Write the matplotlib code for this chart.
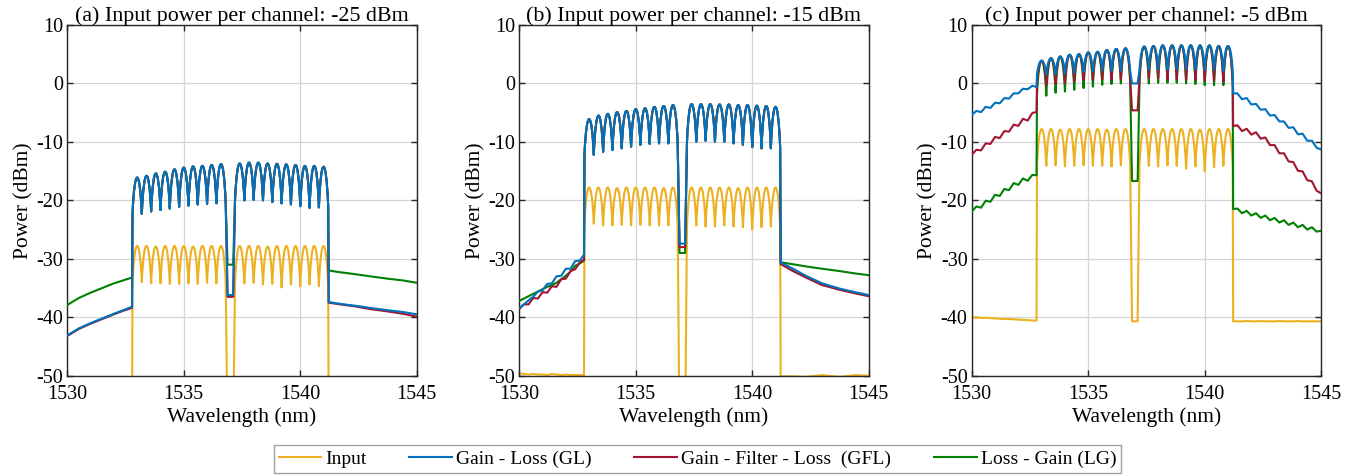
import matplotlib.pyplot as plt
from matplotlib.path import Path
from matplotlib.patches import PathPatch
from matplotlib.lines import Line2D

plt.rcParams['font.family'] = ['Liberation Serif', 'DejaVu Serif']
plt.rcParams['axes.unicode_minus'] = False

# channel centres (nm), the 1537.0 nm channel is dropped
channel_nm = [1533.0, 1533.4, 1533.8, 1534.2, 1534.6, 1535.0, 1535.4, 1535.8, 1536.2, 1536.6,
              1537.4, 1537.8, 1538.2, 1538.6, 1539.0, 1539.4, 1539.8, 1540.2, 1540.6, 1541.0]
gap_nm = [1536.88, 1537.12]

# out-of-band (ASE) sample wavelengths
coarse_left_nm = [1530.0, 1530.5, 1531.0, 1531.5, 1532.0, 1532.4, 1532.78]
coarse_right_nm = [1541.22, 1541.7, 1542.3, 1543.0, 1543.75, 1544.4, 1545.0]
fine_left_nm = [1530.0, 1530.2, 1530.4, 1530.6, 1530.8, 1531.0, 1531.2, 1531.4,
                1531.6, 1531.8, 1532.0, 1532.2, 1532.4, 1532.6, 1532.78]
fine_right_nm = [1541.22, 1541.4, 1541.6, 1541.8, 1542.0, 1542.2, 1542.4, 1542.6, 1542.8, 1543.0,
                 1543.2, 1543.4, 1543.6, 1543.8, 1544.0, 1544.2, 1544.4, 1544.6, 1544.8, 1545.0]

# ---- (a) -25 dBm per channel ----
a_in_peak = [-27.8, -27.8, -27.9, -27.8, -27.8, -27.8, -27.9, -27.8, -27.8, -27.8,
             -27.8, -27.8, -27.8, -27.9, -27.8, -27.8, -27.8, -27.8, -27.8, -27.8]
a_in_dip = [-34.0, -34.2, -34.2, -34.3, -34.3, -34.2, -34.3, -34.1, -34.2,
            -34.2, -34.1, -34.4, -34.3, -34.9, -34.4, -34.7, -34.4, -34.7]
a_in_gap = -60.0
a_in_left = [-60.0, -60.0, -60.0, -60.0, -60.0, -60.0, -60.0]
a_in_right = [-60.0, -60.0, -60.0, -60.0, -60.0, -60.0, -60.0]

a_gl_peak = [-16.1, -15.8, -15.4, -15.1, -14.7, -14.4, -14.2, -14.1, -13.95, -13.8,
             -13.7, -13.55, -13.55, -13.7, -13.75, -13.85, -13.95, -14.1, -14.1, -14.25]
a_gl_dip = [-22.3, -21.9, -21.65, -21.4, -21.1, -20.9, -20.7, -20.6, -20.5,
            -20.0, -19.9, -20.0, -20.3, -20.5, -20.7, -21.0, -21.3, -21.2]
a_gl_gap = -36.2
a_gl_left = [-43.1, -41.9, -41.0, -40.2, -39.4, -38.8, -38.2]
a_gl_right = [-37.4, -37.7, -38.0, -38.4, -38.8, -39.1, -39.5]

a_gfl_peak = a_gl_peak
a_gfl_dip = a_gl_dip
a_gfl_gap = -36.5
a_gfl_left = [-43.2, -42.0, -41.1, -40.3, -39.5, -38.9, -38.4]
a_gfl_right = [-37.5, -37.8, -38.1, -38.6, -39.0, -39.4, -39.9]

a_lg_peak = a_gl_peak
a_lg_dip = a_gl_dip
a_lg_gap = -31.0
a_lg_left = [-37.9, -36.7, -35.8, -35.0, -34.2, -33.7, -33.2]
a_lg_right = [-32.0, -32.3, -32.6, -33.0, -33.4, -33.7, -34.1]

# ---- (b) -15 dBm per channel ----
b_in_peak = [-17.8, -17.8, -17.8, -17.9, -17.8, -17.8, -17.8, -17.8, -17.9, -17.8,
             -17.8, -17.8, -17.8, -17.8, -17.8, -17.9, -17.8, -17.8, -17.8, -17.8]
b_in_dip = [-24.0, -24.3, -24.3, -24.2, -24.3, -24.2, -24.3, -24.3, -24.3,
            -24.3, -24.5, -24.5, -24.3, -24.5, -24.6, -25.0, -24.6, -24.5]
b_in_gap = -60.0
b_in_left = [-49.6, -49.7, -49.8, -49.7, -49.8, -49.8, -49.9, -49.7,
             -49.8, -49.9, -49.8, -49.9, -49.9, -49.9, -49.9]
b_in_right = [-50.1, -50.1, -50.2, -49.9, -50.2, -49.9, -50.0]

b_gl_peak = [-6.1, -5.5, -5.2, -4.9, -4.7, -4.4, -4.25, -4.0, -3.85, -3.7,
             -3.55, -3.55, -3.55, -3.6, -3.6, -3.7, -3.7, -3.8, -3.85, -4.0]
b_gl_dip = [-12.2, -11.7, -11.4, -11.1, -10.8, -10.5, -10.35, -10.25, -10.25,
            -9.95, -9.8, -9.95, -9.95, -10.25, -10.5, -10.9, -11.1, -11.1]
b_gl_gap = -27.4
b_gl_left = [-38.4, -37.8, -37.1, -36.5, -35.6, -35.4, -34.3, -34.2,
             -33.0, -32.9, -31.7, -31.7, -30.4, -30.3, -29.3]
b_gl_right = [-30.6, -31.6, -32.9, -34.2, -35.1, -35.7, -36.2]

b_gfl_peak = b_gl_peak
b_gfl_dip = b_gl_dip
b_gfl_gap = -28.0
b_gfl_left = [-38.6, -37.8, -37.8, -36.7, -36.8, -35.7, -35.8, -34.7,
              -34.8, -33.5, -33.4, -32.1, -31.8, -30.6, -30.2]
b_gfl_right = [-30.9, -32.0, -33.2, -34.5, -35.3, -35.9, -36.4]

b_lg_peak = b_gl_peak
b_lg_dip = b_gl_dip
b_lg_gap = -29.0
b_lg_left = [-37.2, -36.8, -36.4, -36.0, -35.6, -35.2, -34.8, -34.5,
             -34.1, -33.5, -32.9, -32.2, -31.2, -30.8, -30.3]
b_lg_right = [-30.6, -30.9, -31.3, -31.7, -32.1, -32.5, -32.8]

# ---- (c) -5 dBm per channel ----
c_in_peak = [-7.8, -7.8, -7.9, -7.8, -7.8, -7.8, -7.8, -7.9, -7.8, -7.8,
             -7.8, -7.8, -7.8, -7.8, -7.8, -7.8, -7.9, -7.8, -7.8, -7.8]
c_in_dip = [-14.1, -14.0, -14.2, -14.1, -14.0, -14.1, -14.1, -14.2, -14.0,
            -14.1, -14.2, -14.0, -14.1, -14.6, -14.2, -15.0, -14.3, -14.1]
c_in_gap = -40.7
c_in_left = [-40.0, -40.05, -40.1, -40.1, -40.15, -40.2, -40.25, -40.3,
             -40.3, -40.35, -40.4, -40.45, -40.5, -40.55, -40.6]
c_in_right = [-40.7, -40.7, -40.7, -40.65, -40.7, -40.7, -40.65, -40.7, -40.7, -40.7,
              -40.65, -40.7, -40.7, -40.7, -40.65, -40.7, -40.7, -40.7, -40.7, -40.7]

c_gl_peak = [3.9, 4.3, 4.6, 4.9, 5.0, 5.3, 5.4, 5.7, 5.9, 6.0,
             6.3, 6.4, 6.5, 6.5, 6.5, 6.5, 6.5, 6.5, 6.4, 6.4]
c_gl_dip = [1.5, 1.6, 1.7, 1.85, 2.0, 2.0, 2.2, 2.2, 2.2,
            2.4, 2.4, 2.4, 2.4, 2.4, 2.4, 2.3, 2.3, 2.2]
c_gl_gap = 0.0
c_gl_left = [-5.4, -4.7, -4.9, -4.0, -4.2, -3.3, -3.4, -2.5,
             -2.6, -1.7, -1.7, -0.9, -1.0, -0.4, -0.6]
c_gl_right = [-1.7, -1.7, -2.7, -2.5, -3.6, -3.5, -4.5, -4.4, -5.5, -5.4,
              -6.5, -6.5, -7.6, -7.5, -8.7, -8.6, -9.8, -9.8, -11.0, -11.3]

c_gfl_peak = c_gl_peak
c_gfl_dip = [-0.3, 0.0, 0.1, 0.3, 0.6, 0.6, 0.7, 0.7, 0.7,
             0.9, 0.9, 0.7, 0.7, 0.6, 0.6, 0.5, 0.5, 0.3]
c_gfl_gap = -4.6
c_gfl_left = [-12.2, -11.35, -11.45, -10.25, -10.35, -9.15, -9.35, -8.15,
              -8.25, -7.05, -7.25, -6.05, -6.35, -5.05, -4.9]
c_gfl_right = [-7.3, -7.15, -8.15, -7.75, -8.75, -8.35, -9.45, -9.25, -10.55, -10.55,
               -11.95, -11.95, -13.35, -13.45, -14.95, -15.05, -16.55, -16.75, -18.35, -18.8]

c_lg_peak = c_gl_peak
c_lg_dip = [-2.1, -1.6, -1.4, -1.1, -0.8, -0.55, -0.25, -0.1, 0.0,
            0.0, 0.1, 0.1, 0.1, 0.0, -0.1, -0.3, -0.3, -0.3]
c_lg_gap = -16.7
c_lg_left = [-21.9, -21.05, -21.25, -20.05, -20.25, -19.05, -19.25, -18.05,
             -18.25, -17.05, -17.35, -16.25, -16.65, -15.65, -15.7]
c_lg_right = [-21.5, -21.4, -22.2, -21.8, -22.6, -22.2, -23.0, -22.6, -23.4, -23.0,
              -23.8, -23.4, -24.2, -23.8, -24.6, -24.2, -25.0, -24.6, -25.35, -25.2]

titles = ['(a) Input power per channel: -25 dBm',
          '(b) Input power per channel: -15 dBm',
          '(c) Input power per channel: -5 dBm']
series_names = ['Input', 'Gain - Loss (GL)', 'Gain - Filter - Loss  (GFL)', 'Loss - Gain (LG)']
series_colors = ['#EDB120', '#0072BD', '#A2142F', '#008000']

panel_nm = [(coarse_left_nm, coarse_right_nm),
            (fine_left_nm, coarse_right_nm),
            (fine_left_nm, fine_right_nm)]
panels = [
    [(a_in_peak, a_in_dip, a_in_gap, a_in_left, a_in_right),
     (a_gl_peak, a_gl_dip, a_gl_gap, a_gl_left, a_gl_right),
     (a_gfl_peak, a_gfl_dip, a_gfl_gap, a_gfl_left, a_gfl_right),
     (a_lg_peak, a_lg_dip, a_lg_gap, a_lg_left, a_lg_right)],
    [(b_in_peak, b_in_dip, b_in_gap, b_in_left, b_in_right),
     (b_gl_peak, b_gl_dip, b_gl_gap, b_gl_left, b_gl_right),
     (b_gfl_peak, b_gfl_dip, b_gfl_gap, b_gfl_left, b_gfl_right),
     (b_lg_peak, b_lg_dip, b_lg_gap, b_lg_left, b_lg_right)],
    [(c_in_peak, c_in_dip, c_in_gap, c_in_left, c_in_right),
     (c_gl_peak, c_gl_dip, c_gl_gap, c_gl_left, c_gl_right),
     (c_gfl_peak, c_gfl_dip, c_gfl_gap, c_gfl_left, c_gfl_right),
     (c_lg_peak, c_lg_dip, c_lg_gap, c_lg_left, c_lg_right)],
]


def add_band(verts, codes, centres, peaks, dips, edge_l, edge_r):
    # each channel: cubic bezier from dip to dip, passing through its peak
    verts.append((centres[0] - 0.2, edge_l))
    codes.append(Path.LINETO)
    for k, c in enumerate(centres):
        lo = edge_l if k == 0 else dips[k - 1]
        hi = edge_r if k == len(centres) - 1 else dips[k]
        h = (8 * peaks[k] - lo - hi) / 6
        verts += [(c - 0.11, h), (c + 0.11, h), (c + 0.2, hi)]
        codes += [Path.CURVE4, Path.CURVE4, Path.CURVE4]


def spectrum_path(left_nm, right_nm, peak, dip, gap, left, right):
    verts = list(zip(left_nm, left))
    codes = [Path.MOVETO] + [Path.LINETO] * (len(left) - 1)
    add_band(verts, codes, channel_nm[:10], peak[:10], dip[:9], dip[0], dip[8])
    verts += [(gap_nm[0], gap), (gap_nm[1], gap)]
    codes += [Path.LINETO, Path.LINETO]
    add_band(verts, codes, channel_nm[10:], peak[10:], dip[9:], dip[9], dip[17])
    verts += list(zip(right_nm, right))
    codes += [Path.LINETO] * len(right)
    return Path(verts, codes)


fig = plt.figure(figsize=(13.7, 4.76), dpi=100)
lefts = [0.0491, 0.379, 0.7093]
draw_order = [0, 3, 2, 1]  # input, LG, GFL, then GL on top

for p, left in enumerate(lefts):
    ax = fig.add_axes([left, 0.2107, 0.2551, 0.7368])
    for z, s in enumerate(draw_order):
        path = spectrum_path(*panel_nm[p], *panels[p][s])
        ax.add_patch(PathPatch(path, fill=False, edgecolor=series_colors[s], lw=1.5,
                               joinstyle='round', capstyle='round', zorder=2 + z))
    ax.set_xlim(1530, 1545)
    ax.set_ylim(-50, 10)
    ax.set_xticks([1530, 1535, 1540, 1545])
    ax.set_yticks([-50, -40, -30, -20, -10, 0, 10])
    ax.grid(True, color='#d5d5d5', lw=0.9)
    ax.set_axisbelow(True)
    ax.tick_params(direction='in', top=True, right=True, length=4, width=1,
                   labelsize=14.5, color='#262626')
    ax.tick_params(axis='x', pad=7)
    ax.tick_params(axis='y', pad=3)
    for sp in ax.spines.values():
        sp.set_color('#262626')
        sp.set_linewidth(1.0)
    ax.set_xlabel('Wavelength (nm)', fontsize=15.5, labelpad=2)
    ax.set_ylabel('Power (dBm)', fontsize=15.5, labelpad=2)
    ax.set_title(titles[p], fontsize=15.8, pad=3)

handles = [Line2D([], [], color=c, lw=1.5) for c in series_colors]
fig.legend(handles, series_names, loc='center', bbox_to_anchor=(0.509, 0.036), ncol=4,
           fontsize=14, frameon=True, fancybox=False, edgecolor='#a0a0a0',
           handlelength=2.2, handletextpad=0.2, columnspacing=2.2,
           borderpad=0.25, framealpha=1)

fig.savefig('out.png', dpi=100)
